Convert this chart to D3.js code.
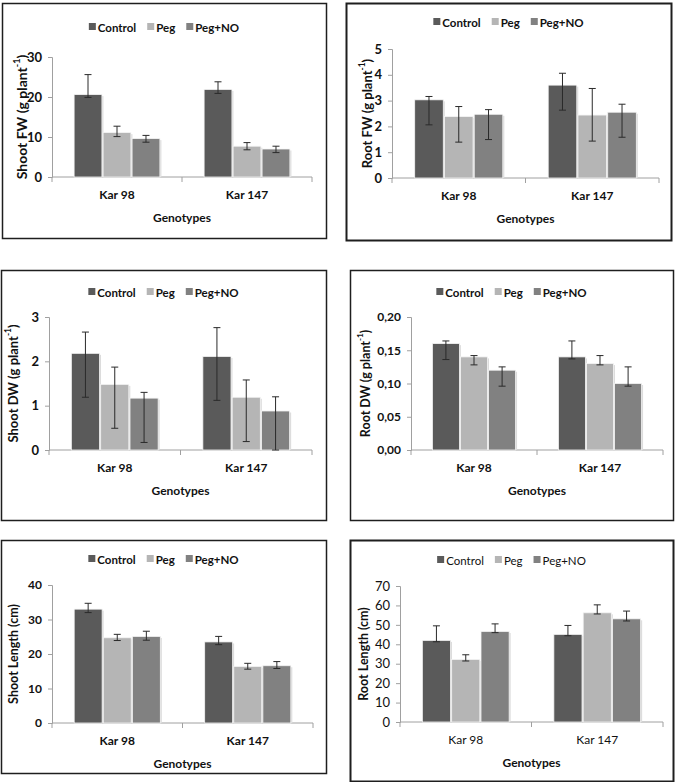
<!DOCTYPE html>
<html><head><meta charset="utf-8">
<script src="https://cdn.jsdelivr.net/npm/d3@7"></script>
<style>body{margin:0;background:#fff}svg{display:block}</style>
</head><body>
<script>
// ---------- DATA ----------
const genotypes = ["Kar 98", "Kar 147"];
const treatments = ["Control", "Peg", "Peg+NO"];

const shootFW   = [[20.6, 11.1, 9.6], [21.9, 7.7, 7.0]];
const shootFWLo = [[19.9, 10.1, 8.7], [20.9, 6.8, 6.1]];
const shootFWHi = [[25.6, 12.7, 10.4], [23.8, 8.6, 7.7]];
const shootFWTicks = [0, 10, 20, 30];

const rootFW   = [[3.03, 2.38, 2.47], [3.60, 2.44, 2.55]];
const rootFWLo = [[2.06, 1.39, 1.49], [2.63, 1.43, 1.58]];
const rootFWHi = [[3.16, 2.77, 2.65], [4.06, 3.47, 2.86]];
const rootFWTicks = [0, 1, 2, 3, 4, 5];

const shootDW   = [[2.18, 1.48, 1.17], [2.11, 1.19, 0.88]];
const shootDWLo = [[1.19, 0.49, 0.17], [1.12, 0.19, 0.0]];
const shootDWHi = [[2.66, 1.87, 1.30], [2.76, 1.58, 1.20]];
const shootDWTicks = [0, 1, 2, 3];

const rootDW   = [[0.160, 0.140, 0.120], [0.140, 0.130, 0.100]];
const rootDWLo = [[0.136, 0.128, 0.096], [0.137, 0.128, 0.096]];
const rootDWHi = [[0.164, 0.142, 0.125], [0.164, 0.142, 0.125]];
const rootDWTicks = [0, 0.05, 0.10, 0.15, 0.20];

const shootLen   = [[33.0, 24.7, 25.1], [23.5, 16.4, 16.6]];
const shootLenLo = [[32.0, 23.9, 24.0], [22.7, 15.6, 15.8]];
const shootLenHi = [[34.7, 25.7, 26.6], [25.1, 17.3, 17.8]];
const shootLenTicks = [0, 10, 20, 30, 40];

const rootLen   = [[42.0, 32.2, 46.6], [45.1, 56.2, 53.1]];
const rootLenLo = [[41.3, 31.4, 46.0], [44.4, 55.6, 52.0]];
const rootLenHi = [[49.5, 34.6, 50.5], [49.7, 60.3, 57.1]];
const rootLenTicks = [0, 10, 20, 30, 40, 50, 60, 70];

// ---------- LAYOUT / STYLE ----------
const colors = ["#5a5a5a", "#b5b5b5", "#818181"];
const FONT = "Lato, 'Open Sans', sans-serif";

const panels = [
  {box:[2,3,324,235], px:[52,312], py:[57,177], vals:shootFW, lo:shootFWLo, hi:shootFWHi, ticks:shootFWTicks, fmt:d=>d, title:["Shoot FW (g plant","-1",")"], tx:21, ts:14, legY:27, bold:true, tickSize:13},
  {box:[346,3,325,237], px:[392,659], py:[49,178], vals:rootFW, lo:rootFWLo, hi:rootFWHi, ticks:rootFWTicks, fmt:d=>d, title:["Root FW (g plant","-1",")"], tx:367, ts:13, legY:22, bold:true, tickSize:13, bw:2},
  {box:[1,270,325,250], px:[49,312], py:[317,450], vals:shootDW, lo:shootDWLo, hi:shootDWHi, ticks:shootDWTicks, fmt:d=>d, title:["Shoot DW (g plant","-1",")"], tx:13, ts:13, legY:292, bold:true, tickSize:13},
  {box:[350,270,323,250], px:[411,663], py:[317,450], vals:rootDW, lo:rootDWLo, hi:rootDWHi, ticks:rootDWTicks, fmt:d=>d3.format(".2f")(d).replace(".", ","), title:["Root DW (g plant","-1",")"], tx:365, ts:12.5, legY:292, bold:true, tickSize:12},
  {box:[1,540,325,233], px:[52,313], py:[585,723], vals:shootLen, lo:shootLenLo, hi:shootLenHi, ticks:shootLenTicks, fmt:d=>d, title:["Shoot Length (cm)"], tx:13, ts:12.5, legY:559, bold:true, tickSize:12},
  {box:[350,540,323,241], px:[400,663], py:[586,722], vals:rootLen, lo:rootLenLo, hi:rootLenHi, ticks:rootLenTicks, fmt:d=>d, title:["Root Length (cm)"], tx:363, ts:12.5, legY:560, bold:false, tickSize:13, bw:2}
];

const svg = d3.select("body").append("svg").attr("width", 676).attr("height", 782)
  .style("font-family", FONT);

panels.forEach(p => {
  const g = svg.append("g");
  const [bx, by, bw, bh] = p.box;
  g.append("rect").attr("x", bx + 0.5).attr("y", by + 0.5).attr("width", bw).attr("height", bh)
    .attr("fill", "none").attr("stroke", "#1e1e1e").attr("stroke-width", p.bw || 1.5);

  const x0 = d3.scaleBand().domain(genotypes).range(p.px).paddingInner(0.34).paddingOuter(0.17);
  const x1 = d3.scaleBand().domain(treatments).range([0, x0.bandwidth()]).paddingInner(0.04);
  const y = d3.scaleLinear().domain([0, d3.max(p.ticks)]).range([p.py[1], p.py[0]]);

  // y axis
  const ya = g.append("g").attr("transform", `translate(${p.px[0]},0)`)
    .call(d3.axisLeft(y).tickValues(p.ticks).tickFormat(p.fmt).tickSize(4).tickPadding(6));
  ya.selectAll("path,line").attr("stroke", "#a0a0a0");
  ya.selectAll("text").attr("font-family", FONT).attr("font-size", p.tickSize)
    .attr("font-weight", p.bold ? "bold" : "normal").attr("fill", "#111");

  // x axis line and ticks
  const xa = g.append("g").attr("transform", `translate(0,${p.py[1]})`);
  xa.append("line").attr("x1", p.px[0]).attr("x2", p.px[1]).attr("stroke", "#a0a0a0");
  const bounds = [p.px[0], (p.px[0] + p.px[1]) / 2, p.px[1]];
  xa.selectAll("line.tk").data(bounds).join("line").attr("class", "tk")
    .attr("x1", d => d).attr("x2", d => d).attr("y1", 0).attr("y2", 5).attr("stroke", "#a0a0a0");
  xa.selectAll("text").data(genotypes).join("text")
    .attr("x", d => x0(d) + x0.bandwidth() / 2).attr("y", 22)
    .attr("text-anchor", "middle").attr("font-size", 12)
    .attr("font-weight", p.bold ? "bold" : "normal").attr("fill", "#111").text(d => d);

  // x title
  g.append("text").attr("x", (p.px[0] + p.px[1]) / 2).attr("y", p.py[1] + 45)
    .attr("text-anchor", "middle").attr("font-size", 12).attr("font-weight", "bold")
    .attr("fill", "#111").text("Genotypes");

  // y title
  const yt = g.append("text").attr("transform", `translate(${p.tx},${(p.py[0] + p.py[1]) / 2}) rotate(-90)`)
    .attr("text-anchor", "middle").attr("dominant-baseline", "central")
    .attr("font-size", p.ts).attr("font-weight", "bold").attr("fill", "#111");
  yt.append("tspan").text(p.title[0]);
  if (p.title.length > 1) {
    yt.append("tspan").attr("font-size", p.ts * 0.65).attr("dy", -5).text(p.title[1]);
    yt.append("tspan").attr("dy", 5).text(p.title[2]);
  }

  // bars
  genotypes.forEach((gen, gi) => {
    const gg = g.append("g").attr("transform", `translate(${x0(gen)},0)`);
    treatments.forEach((t, ti) => {
      const v = p.vals[gi][ti];
      const bx0 = x1(t), w = x1.bandwidth();
      gg.append("rect").attr("x", bx0 + 1.5).attr("y", y(v) + 1.5).attr("width", w)
        .attr("height", y(0) - y(v) - 1.5).attr("fill", "#dcdcdc");
      gg.append("rect").attr("x", bx0).attr("y", y(v)).attr("width", w)
        .attr("height", y(0) - y(v)).attr("fill", colors[ti])
        .attr("stroke", "#f4f4f4").attr("stroke-width", 0.8);
      const cx = bx0 + w / 2, lo = p.lo[gi][ti], hi = p.hi[gi][ti];
      gg.append("line").attr("x1", cx).attr("x2", cx).attr("y1", y(lo)).attr("y2", y(hi))
        .attr("stroke", "#2a2a2a").attr("stroke-width", 1);
      [lo, hi].forEach(e => gg.append("line").attr("x1", cx - 3.5).attr("x2", cx + 3.5)
        .attr("y1", y(e)).attr("y2", y(e)).attr("stroke", "#2a2a2a").attr("stroke-width", 1));
    });
  });

  // legend
  const leg = g.append("g");
  let cur = 0;
  treatments.forEach((t, ti) => {
    const it = leg.append("g").attr("transform", `translate(${cur},0)`);
    it.append("rect").attr("x", 0).attr("y", -4).attr("width", 7).attr("height", 7).attr("fill", colors[ti]);
    const tx = it.append("text").attr("x", 9).attr("y", 0).attr("dominant-baseline", "central")
      .attr("font-size", 11.5).attr("font-weight", p.bold ? "bold" : "normal").attr("fill", "#111").text(t);
    cur += 9 + tx.node().getComputedTextLength() + 11;
  });
  cur -= 11;
  leg.attr("transform", `translate(${bx + bw / 2 - cur / 2},${p.legY})`);
});
</script>
</body></html>
